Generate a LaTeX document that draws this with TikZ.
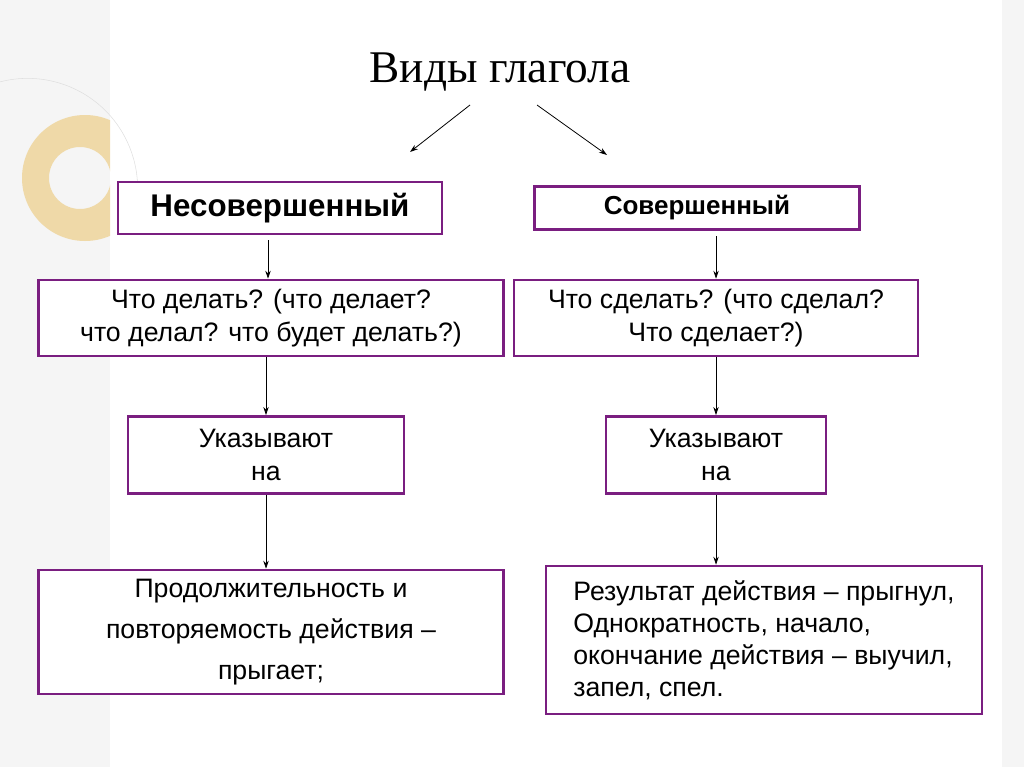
\documentclass[tikz,border=0pt]{standalone}
\usepackage{fontspec}
\setmainfont{Liberation Sans}
\newfontfamily\titlefont{Liberation Serif}
\usetikzlibrary{arrows.meta}
\definecolor{boxline}{HTML}{7A1E80}
\definecolor{ringcol}{HTML}{EFD9A8}
\tikzset{
  kindbox/.style={draw=boxline,line width=1.9pt,fill=white,align=center,inner sep=2pt,font=\fontsize{20}{25}\selectfont},
  link/.style={-{Stealth[length=6pt,width=4pt]},line width=0.6pt}
}
\begin{document}
\begin{tikzpicture}[x=0.75pt,y=-0.75pt]
  \useasboundingbox (0,0) rectangle (1024,767);
  % background
  \fill[gray!8] (0,0) rectangle (110,767);
  \fill[gray!8] (1002,0) rectangle (1024,767);
  \draw[gray!25] (-10,85) arc[start angle=250,end angle=360,radius=110];
  \begin{scope}
    \clip (0,0) rectangle (110,767);
    \fill[ringcol,even odd rule] (85,178) circle[radius=63] (80,178) circle[radius=31];
  \end{scope}

  \node[font=\titlefont\fontsize{34}{38}\selectfont] (title) at (500,72) {Виды глагола};

  \node[kindbox,minimum width=243pt,minimum height=39pt,font=\bfseries\fontsize{23.5}{28}\selectfont] (nes) at (280,208) {Несовершенный};
  \node[kindbox,minimum width=244pt,minimum height=32pt,font=\bfseries\fontsize{19.5}{24}\selectfont] (sov) at (697,208) {Совершенный};

  \node[kindbox,minimum width=349pt,minimum height=57pt] (nesq) at (271,318) {Что делать? (что делает?\\что делал? что будет делать?)};
  \node[kindbox,minimum width=303pt,minimum height=57pt] (sovq) at (716,318) {Что сделать? (что сделал?\\Что сделает?)};

  \node[kindbox,minimum width=207pt,minimum height=58pt] (nesu) at (266,455) {Указывают\\на};
  \node[kindbox,minimum width=165pt,minimum height=58pt] (sovu) at (716,455) {Указывают\\на};

  \node[kindbox,minimum width=349pt,minimum height=93pt,font=\fontsize{20}{31}\selectfont] (nesm) at (271,632) {Продолжительность и\\повторяемость действия –\\прыгает;};
  \node[kindbox,minimum width=327pt,minimum height=111pt,align=left,font=\fontsize{20}{24}\selectfont] (sovm) at (764,640) {Результат действия – прыгнул,\\Однократность, начало,\\окончание действия – выучил,\\запел, спел.};

  \coordinate (tl) at (470,105);
  \coordinate (tr) at (537,105);
  \coordinate (al) at (410,152);
  \coordinate (ar) at (607,155);
  \coordinate (ns) at (268,240);
  \coordinate (ss) at (716,236);
  \draw[link] (tl) -- (al);
  \draw[link] (tr) -- (ar);

  \draw[link] (ns) -- (ns |- nesq.north);
  \draw[link] (ss) -- (ss |- sovq.north);
  \draw[link] (nesq.south -| nesu) -- (nesu.north);
  \draw[link] (sovq.south) -- (sovu.north);
  \draw[link] (nesu.south) -- (nesu.south |- nesm.north);
  \draw[link] (sovu.south) -- (sovu.south |- sovm.north);
\end{tikzpicture}
\end{document}
